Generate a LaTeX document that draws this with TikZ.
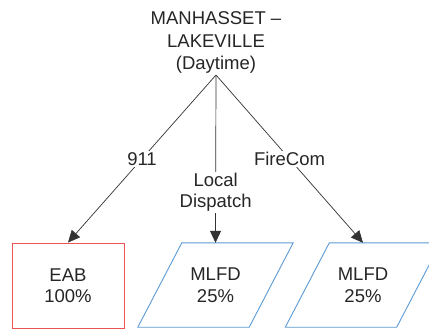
\documentclass[tikz,border=0pt]{standalone}
\usepackage{fontspec}
\setmainfont{Liberation Sans}
\usetikzlibrary{arrows.meta}
\definecolor{boxred}{RGB}{236,84,84}
\definecolor{boxblue}{RGB}{91,155,213}
\begin{document}
\begin{tikzpicture}[x=1pt,y=-1pt,
  every node/.style={font=\fontsize{18.5}{21.5}\selectfont, text=black!85},
  lbl/.style={fill=white, inner sep=1.5pt, align=center},
  link/.style={draw=black!80, line width=0.7pt},
  arrowlink/.style={link, -{Triangle[length=12pt,width=11pt]}},
  redbox/.style={draw=boxred, line width=0.9pt, minimum width=112pt, minimum height=85pt, align=center},
  slotbox/.style={minimum width=155pt, minimum height=84pt, inner sep=0pt, align=center},
  para/.style={draw=boxblue, line width=0.9pt}
]
\useasboundingbox (0,0) rectangle (429,330);
\clip (0,0) rectangle (429,330);
\fill[white] (0,0) rectangle (429,330);

% source
\node[align=center, anchor=south, inner sep=1pt,
      font=\fontsize{18.5}{22.5}\selectfont] (src) at (216,75)
  {MANHASSET –\\LAKEVILLE\\(Daytime)};

% targets
\node[redbox] (eab) at (68,285.5) {EAB\\100\%};
\node[slotbox] (mid) at (215.5,285) {MLFD\\25\%};
\node[slotbox] (rgt) at (363,285) {MLFD\\25\%};

% parallelogram outlines round the slot nodes
\foreach \n in {mid,rgt}{
  \draw[para] ([xshift=44pt]\n.north west) -- (\n.north east)
    -- ([xshift=-44pt]\n.south east) -- (\n.south west) -- cycle;
}

% connectors
\draw[arrowlink] (src.south) -- node[lbl, pos=0.5] {911} (eab.north);
\draw[arrowlink] (src.south) -- node[lbl, pos=0.7] {Local\\Dispatch} (mid.north);
\draw[arrowlink] (src.south) -- node[lbl, pos=0.5] {FireCom} (rgt.north);
\end{tikzpicture}
\end{document}
